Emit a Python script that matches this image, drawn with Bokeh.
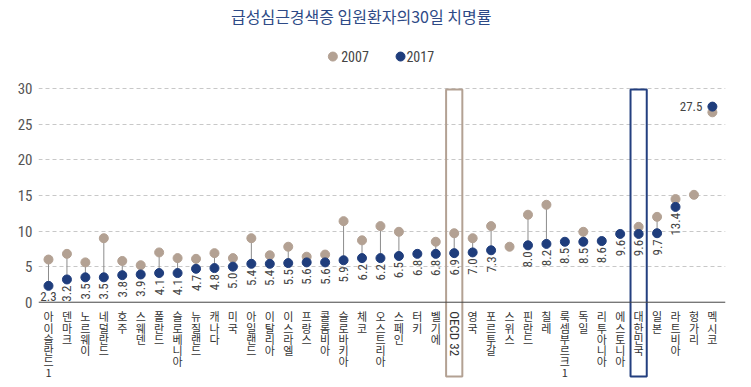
import math
import numpy as np
from bokeh.plotting import figure
from bokeh.models import Range1d, FixedTicker, Span, Label, ColumnDataSource
from bokeh.core.properties import value
from bokeh.embed import file_html
from bokeh.resources import INLINE

# ---------------- data ----------------
title = "급성심근경색증  입원환자의30일  치명률"
countries = ["아이슬란드1", "덴마크", "노르웨이", "네덜란드", "호주", "스웨덴", "폴란드",
             "슬로베니아", "뉴질랜드", "캐나다", "미국", "아일랜드", "이탈리아", "이스라엘",
             "프랑스", "콜롬비아", "슬로바키아", "체코", "오스트리아", "스페인", "터키",
             "벨기에", "OECD 32", "영국", "포르투갈", "스위스", "핀란드", "칠레",
             "룩셈부르크1", "독일", "리투아니아", "에스토니아", "대한민국", "일본",
             "라트비아", "헝가리", "멕시코"]
nan = float("nan")
v2017 = [2.3, 3.2, 3.5, 3.5, 3.8, 3.9, 4.1, 4.1, 4.7, 4.8, 5.0, 5.4, 5.4, 5.5,
         5.6, 5.6, 5.9, 6.2, 6.2, 6.5, 6.8, 6.8, 6.9, 7.0, 7.3, nan, 8.0, 8.2,
         8.5, 8.5, 8.6, 9.6, 9.6, 9.7, 13.4, nan, 27.5]
v2007 = [6.0, 6.8, 5.6, 9.0, 5.8, 5.2, 7.0, 6.2, 6.1, 6.9, 6.2, 9.0, 6.6, 7.8,
         6.4, 6.7, 11.4, 8.7, 10.7, 9.9, nan, 8.5, 9.7, 9.0, 10.7, 7.8, 12.3, 13.7,
         nan, 9.9, nan, nan, 10.6, 12.0, 14.5, 15.1, 26.7]
series_names = ["2007", "2017"]
y_ticks = [0, 5, 10, 15, 20, 25, 30]
highlight = {"OECD 32": "#b3a193", "대한민국": "#233f7f"}

TAN = "#b3a193"
BLUE = "#1f3d7c"
NUM_FONT = "Liberation Sans Narrow, Roboto Condensed, Arial Narrow, Roboto"
KR_FONT = "Noto Sans CJK KR"

n = len(countries)
idx = list(range(n))

p = figure(width=751, height=387, output_backend="svg", toolbar_location=None,
           x_range=Range1d(-0.542, 36.71), y_range=Range1d(-11.99, 42.42),
           x_axis_location=None, min_border_left=38, min_border_right=26,
           min_border_top=0, min_border_bottom=0)
p.outline_line_color = None
p.background_fill_color = "white"
p.border_fill_color = "white"

# y axis
p.yaxis.ticker = FixedTicker(ticks=y_ticks)
p.yaxis.axis_line_color = None
p.yaxis.major_tick_line_color = None
p.yaxis.minor_tick_line_color = None
p.yaxis.major_label_text_font = NUM_FONT
p.yaxis.major_label_text_font_size = "15px"
p.yaxis.major_label_text_color = "#555555"
p.yaxis.major_label_standoff = 0
p.ygrid.ticker = FixedTicker(ticks=y_ticks[1:])
p.ygrid.grid_line_color = "#c8c8c8"
p.ygrid.grid_line_dash = "4 3"
p.xgrid.visible = False

p.add_layout(Span(location=0, dimension="width", line_color="#444444", line_width=1))

# highlight boxes
for name, col in highlight.items():
    i = countries.index(name)
    p.quad(left=[i - 0.44], right=[i + 0.44], top=[29.9], bottom=[-10.45],
           fill_color=None, line_color=col, line_width=2)

# stems and dots
p.segment(x0=idx, y0=v2007, x1=idx, y1=v2017, line_color="#8c8c8c", line_width=1)
p.scatter(idx, v2007, size=9, fill_color=TAN, line_color=TAN)
p.scatter(idx, v2017, size=9, fill_color=BLUE, line_color=BLUE)

# value labels (vertical)
vx, vy, vt = [], [], []
for i in idx:
    v = v2017[i]
    if i in (0, n - 1) or math.isnan(v):
        continue
    vx.append(i); vy.append(v); vt.append(f"{v:.1f}")
p.text(x=vx, y=vy, text=vt, angle=math.pi / 2, text_align="right",
       text_baseline="middle", y_offset=6, text_font=value(NUM_FONT),
       text_font_size="13px", text_color="#444444")
# first and last labels horizontal
p.text(x=[0], y=[0], text=[f"{v2017[0]:.1f}"], text_align="center",
       text_baseline="bottom", y_offset=-1, text_font=value(NUM_FONT),
       text_font_size="13px", text_color="#444444")
p.text(x=[n - 1], y=[v2017[-1]], text=[f"{v2017[-1]:.1f}"], text_align="right",
       text_baseline="middle", x_offset=-10, y_offset=0, text_font=value(NUM_FONT),
       text_font_size="13px", text_color="#444444")

# category labels: stacked vertical Korean, one character per row
max_len = max(len(c) for c in countries if not c.startswith("OECD"))
for k in range(max_len):
    kx, kt = [], []
    for i, c in enumerate(countries):
        if c.startswith("OECD") or k >= len(c):
            continue
        kx.append(i); kt.append(c[k])
    p.text(x=kx, y=[0] * len(kx), text=kt, text_align="center", text_baseline="middle",
           y_offset=14 + k * 11.3, text_font=value(KR_FONT), text_font_size="11px",
           text_color="#333333")
oi = countries.index("OECD 32")
p.text(x=[oi], y=[0], text=[countries[oi]], angle=-math.pi / 2, text_align="left",
       text_baseline="middle", y_offset=9, text_font=value(NUM_FONT),
       text_font_size="13px", text_color="#333333")

# title
p.add_layout(Label(x=17.15, y=40.3, text=title, text_align="center",
                   text_baseline="middle", text_font=KR_FONT,
                   text_font_size="16px", text_color="#2e4a86"))

# legend
leg_y = 34.54
for name, col, dx, tx in zip(series_names, [TAN, BLUE], [15.42, 19.09], [15.87, 19.41]):
    p.scatter([dx], [leg_y], size=9, fill_color=col, line_color=col)
    p.text(x=[tx], y=[leg_y], text=[name], text_align="left", text_baseline="middle",
           text_font=value(NUM_FONT), text_font_size="14px", text_color="#444444")

open("out.html", "w").write(file_html(p, INLINE))
